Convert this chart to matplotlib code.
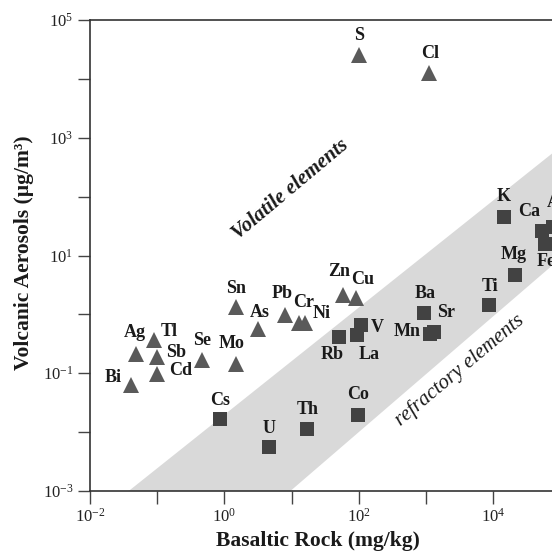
import math
import matplotlib
matplotlib.use("Agg")
import matplotlib.pyplot as plt
from matplotlib.ticker import LogLocator, FuncFormatter, NullLocator

plt.rcParams['font.family'] = ['Liberation Serif', 'DejaVu Serif']
plt.rcParams['mathtext.fontset'] = 'custom'
plt.rcParams['mathtext.rm'] = 'Liberation Serif'
plt.rcParams['mathtext.it'] = 'Liberation Serif:italic'
plt.rcParams['mathtext.bf'] = 'Liberation Serif:bold'

# ---- data (basaltic rock mg/kg, volcanic aerosol ug/m3) ----
volatile_names = ['S', 'Cl', 'Bi', 'Ag', 'Tl', 'Sb', 'Cd', 'Se', 'Mo', 'Sn', 'As',
                  'Pb', 'Cr', 'Ni', 'Zn', 'Cu']
volatile_rock = [100, 1100, 0.041, 0.049, 0.091, 0.10, 0.10, 0.46, 1.47, 1.49, 3.16,
                 8.1, 13.1, 16.0, 58, 90]
volatile_aer = [25000, 12400, 0.062, 0.213, 0.369, 0.19, 0.098, 0.171, 0.144, 1.34, 0.567,
                0.98, 0.72, 0.72, 2.10, 1.91]

refractory_names = ['Cs', 'U', 'Th', 'Co', 'Rb', 'La', 'V', 'Ba', 'Mn', 'Sr', 'Ti',
                    'Mg', 'K', 'Ca', 'Al', 'Fe']
refractory_rock = [0.87, 4.56, 17.2, 98.7, 51.4, 94.4, 107, 931, 1150, 1300, 8770,
                   20800, 14300, 52500, 78700, 58200]
refractory_aer = [0.0168, 0.0056, 0.0114, 0.0197, 0.42, 0.449, 0.66, 1.04, 0.457, 0.494, 1.45,
                  4.74, 45.7, 26.4, 30.6, 15.7]

# shaded band corners (data coordinates)
band_x = [10 ** -1.424, 10 ** 0.982, 1e6, 1e6]
band_y = [1e-3, 1e-3, 10 ** 1.933, 10 ** 3.755]

# label offsets in pixels (dx, dy)
label_offsets = {
    'S': (0, 20), 'Cl': (1, 20), 'Bi': (-18, 8), 'Ag': (-2, 21), 'Tl': (15, 8),
    'Sb': (19, 4), 'Cd': (23, 3), 'Se': (0, 19), 'Mo': (-4, 20), 'Sn': (0, 18),
    'As': (2, 16), 'Pb': (-3, 21), 'Cr': (4, 20), 'Ni': (16, 9), 'Zn': (-4, 24),
    'Cu': (7, 18),
    'Cs': (0, 18), 'U': (0, 18), 'Th': (0, 19), 'Co': (0, 20), 'Rb': (-7, -18),
    'La': (12, -20), 'V': (17, -3), 'Ba': (1, 20), 'Mn': (-23, 3), 'Sr': (12, 20),
    'Ti': (1, 18), 'Mg': (-1, 20), 'K': (0, 20), 'Ca': (-12, 19), 'Al': (2, 24),
    'Fe': (2, -18),
}

W, H = 552, 553
fig = plt.figure(figsize=(W / 100, H / 100), dpi=100)
ax_left, ax_top, ax_bottom = 90, 20, 491
ax_width = 8 * 67.2
ax = fig.add_axes([ax_left / W, (H - ax_bottom) / H, ax_width / W, (ax_bottom - ax_top) / H])

ax.set_xscale('log')
ax.set_yscale('log')
ax.set_xlim(1e-2, 1e6)
ax.set_ylim(1e-3, 1e5)

ax.fill(band_x, band_y, color='#d9d9d9', lw=0, zorder=1)

ax.plot(volatile_rock, volatile_aer, linestyle='none', marker='^', markersize=11.5,
        color='#5a5a5a', markeredgewidth=0, zorder=3)
ax.plot(refractory_rock, refractory_aer, linestyle='none', marker='s', markersize=10.5,
        color='#424242', markeredgewidth=0, zorder=3)

for names, xs, ys in [(volatile_names, volatile_rock, volatile_aer),
                      (refractory_names, refractory_rock, refractory_aer)]:
    for n, x, y in zip(names, xs, ys):
        dx, dy = label_offsets[n]
        ax.annotate(n, (x, y), xytext=(dx, dy), textcoords='offset pixels',
                    ha='center', va='center', fontsize=13, fontweight='bold',
                    color='#1a1a1a', zorder=4, annotation_clip=False)

ax.text(9.6, 130, 'Volatile elements', rotation=40, rotation_mode='anchor',
        ha='center', va='center', fontsize=15, fontstyle='italic', fontweight='bold',
        color='#1a1a1a')
ax.text(3140, 0.114, 'refractory elements', rotation=40, rotation_mode='anchor',
        ha='center', va='center', fontsize=15, fontstyle='italic', color='#1a1a1a')

# ticks
ax.xaxis.set_major_locator(LogLocator(base=10, numticks=20))
ax.yaxis.set_major_locator(LogLocator(base=10, numticks=20))
ax.xaxis.set_minor_locator(NullLocator())
ax.yaxis.set_minor_locator(NullLocator())


def fmt_x(v, pos):
    e = int(round(math.log10(v)))
    return r'$\mathregular{10^{%d}}$' % e if (e % 2 == 0 and e <= 4) else ''


def fmt_y(v, pos):
    e = int(round(math.log10(v)))
    return r'$\mathregular{10^{%d}}$' % e if e % 2 != 0 else ''


ax.xaxis.set_major_formatter(FuncFormatter(fmt_x))
ax.yaxis.set_major_formatter(FuncFormatter(fmt_y))
ax.tick_params(axis='both', which='major', direction='out', length=9, width=1.0,
               color='#444444', labelsize=12, labelcolor='#222222', pad=3)
ax.tick_params(top=False, right=False)
for s in ax.spines.values():
    s.set_linewidth(1.2)
    s.set_color('#333333')

fig.text(318 / W, 1 - 541 / H, 'Basaltic Rock (mg/kg)', ha='center', va='center',
         fontsize=15.5, fontweight='bold', color='#1a1a1a')
fig.text(24 / W, 1 - 253 / H, 'Volcanic Aerosols (µg/m³)', ha='center', va='center',
         rotation=90, fontsize=15.5, fontweight='bold', color='#1a1a1a')

fig.savefig('out.png', dpi=100)
